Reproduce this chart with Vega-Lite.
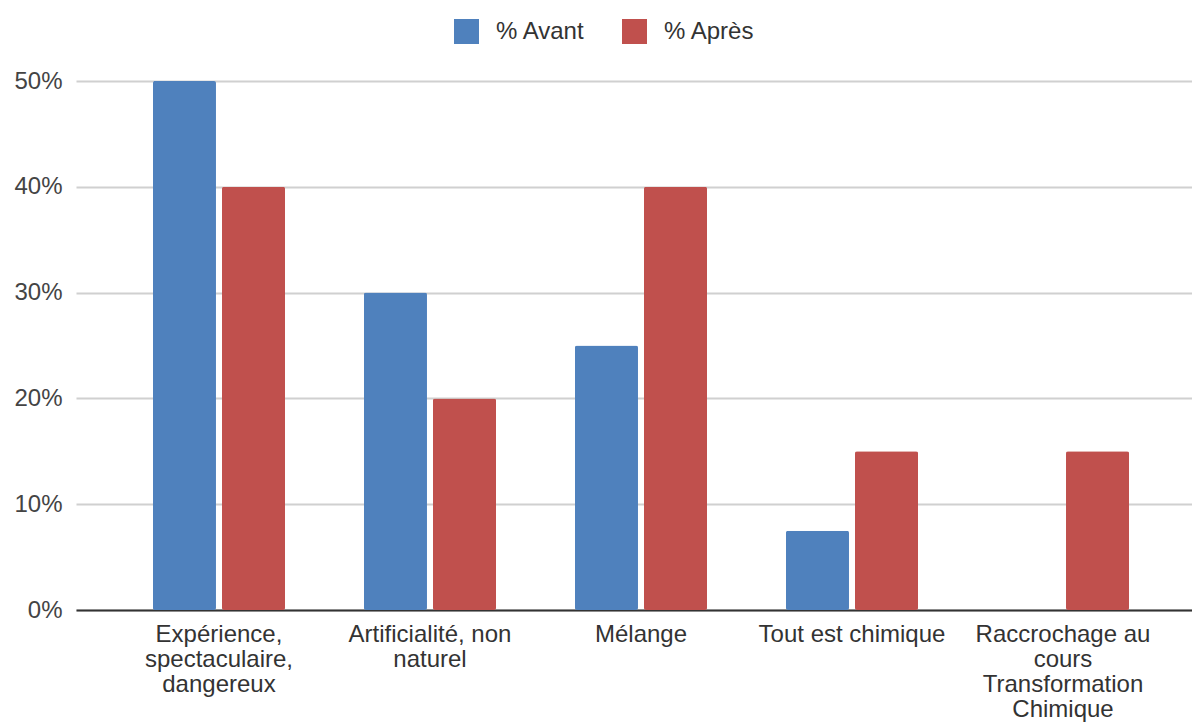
{
  "$schema": "https://vega.github.io/schema/vega-lite/v6.json",
  "width": 1116,
  "height": 529,
  "autosize": {"type": "none"},
  "padding": {"left": 76, "top": 81, "right": 0, "bottom": 112},
  "background": "white",
  "config": {
    "font": "Liberation Sans",
    "view": {"stroke": null}
  },
  "data": {
    "values": [
      {"categorie": "Expérience, spectaculaire, dangereux", "serie": "% Avant", "valeur": 0.5},
      {"categorie": "Expérience, spectaculaire, dangereux", "serie": "% Après", "valeur": 0.4},
      {"categorie": "Artificialité, non naturel", "serie": "% Avant", "valeur": 0.3},
      {"categorie": "Artificialité, non naturel", "serie": "% Après", "valeur": 0.2},
      {"categorie": "Mélange", "serie": "% Avant", "valeur": 0.25},
      {"categorie": "Mélange", "serie": "% Après", "valeur": 0.4},
      {"categorie": "Tout est chimique", "serie": "% Avant", "valeur": 0.075},
      {"categorie": "Tout est chimique", "serie": "% Après", "valeur": 0.15},
      {"categorie": "Raccrochage au cours Transformation Chimique", "serie": "% Avant", "valeur": 0},
      {"categorie": "Raccrochage au cours Transformation Chimique", "serie": "% Après", "valeur": 0.15}
    ]
  },
  "mark": {"type": "bar", "cornerRadius": 2},
  "encoding": {
    "x": {
      "field": "categorie",
      "type": "nominal",
      "sort": null,
      "title": null,
      "scale": {"paddingInner": 0.374, "paddingOuter": 0.3315, "align": 0.55},
      "axis": {
        "labelAngle": 0,
        "labelFontSize": 24,
        "labelColor": "#333333",
        "labelLineHeight": 25,
        "labelPadding": 12,
        "ticks": false,
        "domainColor": "#333333",
        "domainWidth": 2,
        "labelLimit": 300,
        "labelExpr": "datum.label == 'Expérience, spectaculaire, dangereux' ? ['Expérience,', 'spectaculaire,', 'dangereux'] : datum.label == 'Artificialité, non naturel' ? ['Artificialité, non', 'naturel'] : datum.label == 'Raccrochage au cours Transformation Chimique' ? ['Raccrochage au', 'cours', 'Transformation', 'Chimique'] : datum.label"
      }
    },
    "xOffset": {
      "field": "serie",
      "type": "nominal",
      "sort": ["% Avant", "% Après"],
      "scale": {"paddingInner": 0.087, "paddingOuter": 0}
    },
    "y": {
      "field": "valeur",
      "type": "quantitative",
      "title": null,
      "scale": {"domain": [0, 0.5], "nice": false},
      "axis": {
        "values": [0, 0.1, 0.2, 0.3, 0.4, 0.5],
        "format": ".0%",
        "labelFontSize": 24,
        "labelColor": "#444444",
        "labelPadding": 14,
        "ticks": false,
        "domain": false,
        "gridColor": "#d0d0d0",
        "gridWidth": 2
      }
    },
    "color": {
      "field": "serie",
      "type": "nominal",
      "sort": ["% Avant", "% Après"],
      "scale": {"domain": ["% Avant", "% Après"], "range": ["#4f81bd", "#c0504d"]},
      "legend": {
        "title": null,
        "orient": "none",
        "direction": "horizontal",
        "legendX": 378,
        "legendY": -62,
        "symbolType": "square",
        "symbolSize": 625,
        "symbolStrokeWidth": 0,
        "labelFontSize": 24,
        "labelColor": "#333333",
        "labelOffset": 17,
        "columnPadding": 37
      }
    }
  }
}
